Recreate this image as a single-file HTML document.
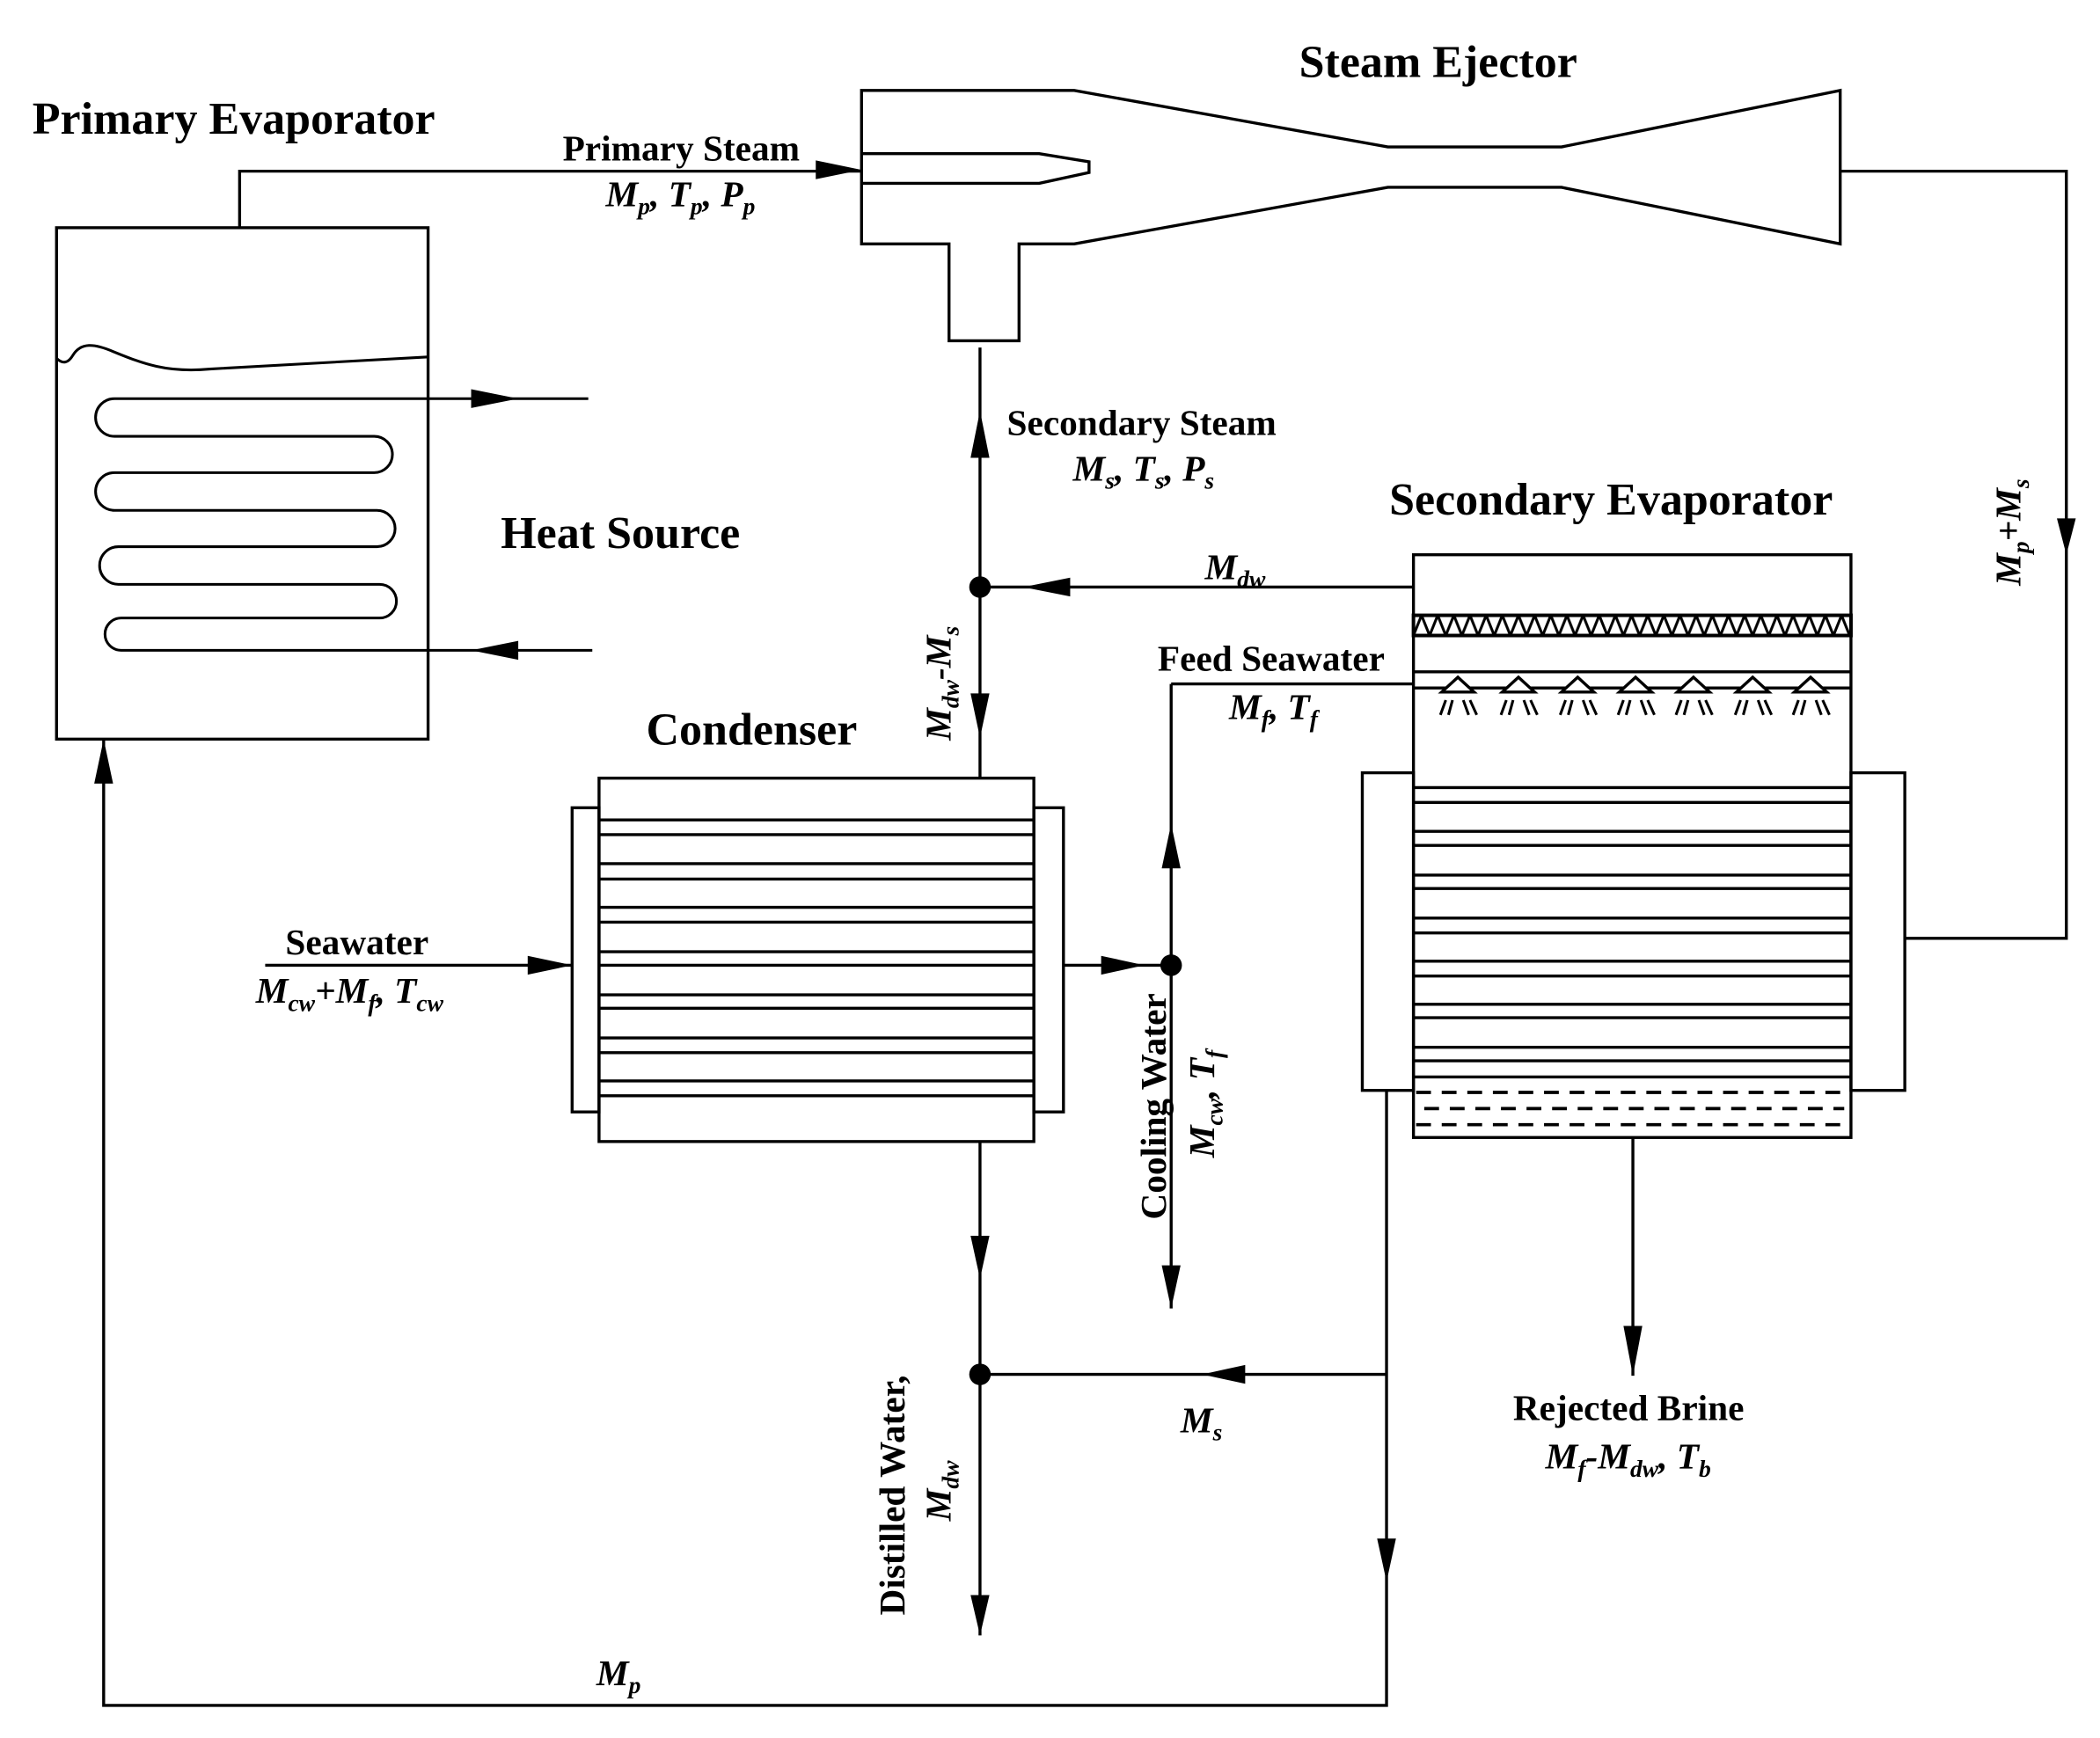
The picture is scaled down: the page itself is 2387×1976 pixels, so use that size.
<!DOCTYPE html>
<html><head><meta charset="utf-8"><style>
html,body{margin:0;padding:0;background:#fff;}
svg{display:block;}
text{font-family:"Liberation Serif",serif;font-weight:bold;fill:#000;}
.t{font-size:34px;}
.l{font-size:27px;}
.i{font-size:27px;font-style:italic;}
.s{font-size:18px;font-style:italic;}
</style></head><body>
<svg width="2387" height="1976" viewBox="0 0 1560 1291" xmlns="http://www.w3.org/2000/svg">
<defs>
<pattern id="zz" patternUnits="userSpaceOnUse" x="1050" y="457" width="12" height="15">
<path d="M0,15 L6,0 L12,15" fill="none" stroke="#000" stroke-width="2"/>
</pattern>
<g id="spr">
<polygon points="-12,11 0,0 12,11" fill="#fff" stroke="#000" stroke-width="2.2"/>
<path d="M-13,28 L-9,17 M-7,28 L-4,17 M4,17 L8,28 M9,17 L14,28" stroke="#000" stroke-width="2"/>
</g>
</defs>
<g fill="none" stroke="#000" stroke-width="2.2">
<rect x="42" y="169" width="276" height="380"/>
<path d="M178,169 V127 H640"/>
<path d="M42,266 c5,5 9,3 12,-2 c6,-10 16,-9 30,-3 c22,9 40,16 72,13 L318,265" stroke-width="2"/>
<path d="M437,296 H85 A14,14 0 0 0 85,324 H278 A13.5,13.5 0 0 1 278,351 H85 A14,14 0 0 0 85,379 H280 A13.5,13.5 0 0 1 280,406 H88 A14,14 0 0 0 88,434 H282 A12.5,12.5 0 0 1 282,459 H90 A12,12 0 0 0 90,483 H440" stroke-width="2"/>
<path d="M640,67 H798 L1031,109 H1160 L1367,67 V181 L1160,139 H1031 L798,181 H757 V253 H705 V181 H640 Z"/>
<path d="M640,114 H772 L809,120 V128 L772,136 H640"/>
<path d="M1367,127 H1535 V697 H1415"/>
<path d="M728,258 V578"/>
<path d="M728,436 H1050"/>
<rect x="445" y="578" width="323" height="270"/>
<rect x="425" y="600" width="20" height="226"/>
<rect x="768" y="600" width="22" height="226"/>
<path d="M445,609H768M445,620H768M445,641.5H768M445,653H768M445,674H768M445,685H768M445,707H768M445,717H768M445,739H768M445,749H768M445,771H768M445,782H768M445,803H768M445,814H768"/>
<path d="M197,717 H425"/>
<path d="M790,717 H870"/>
<path d="M870,508 V972"/>
<path d="M870,508 H1050"/>
<path d="M728,848 V1215"/>
<path d="M728,1021 H1030"/>
<rect x="1050" y="412" width="325" height="433"/>
<rect x="1012" y="574" width="38" height="236"/>
<rect x="1375" y="574" width="40" height="236"/>
<rect x="1050" y="457" width="325" height="15" fill="url(#zz)" stroke-width="2.6"/>
<path d="M1050,499H1375M1050,511H1375"/>
<path d="M1050,585H1375M1050,596H1375M1050,617.5H1375M1050,628H1375M1050,650H1375M1050,660H1375M1050,682H1375M1050,693H1375M1050,714H1375M1050,725H1375M1050,746H1375M1050,756H1375M1050,778H1375M1050,788H1375M1050,800H1375"/>
<path d="M1052,811.5H1375M1058,823.5H1370M1052,835.5H1375" stroke-dasharray="11,8" stroke-width="2.4"/>
<path d="M1030,810 V1267 H77 V549"/>
<path d="M1213,845 V1022"/>
</g>
<use href="#spr" x="1083" y="503"/><use href="#spr" x="1128" y="503"/><use href="#spr" x="1172" y="503"/><use href="#spr" x="1215" y="503"/><use href="#spr" x="1258" y="503"/><use href="#spr" x="1302" y="503"/><use href="#spr" x="1345" y="503"/>
<g fill="#000">
<polygon points="350,289 385,296 350,303"/>
<polygon points="350,483 385,476 385,490"/>
<polygon points="606,119 640,126 606,133"/>
<polygon points="1528,385 1535,412 1542,385"/>
<polygon points="721,340 728,305 735,340"/>
<polygon points="721,515 728,548 735,515"/>
<polygon points="760,436 795,429 795,443"/>
<polygon points="392,710 425,717 392,724"/>
<polygon points="818,710 850,717 818,724"/>
<polygon points="863,645 870,612 877,645"/>
<polygon points="863,940 870,972 877,940"/>
<polygon points="721,918 728,950 735,918"/>
<polygon points="721,1185 728,1215 735,1185"/>
<polygon points="893,1021 925,1014 925,1028"/>
<polygon points="1023,1143 1030,1175 1037,1143"/>
<polygon points="1206,985 1213,1022 1220,985"/>
<polygon points="70,582 77,549 84,582"/>
<circle cx="728" cy="436" r="8"/>
<circle cx="870" cy="717" r="8"/>
<circle cx="728" cy="1021" r="8"/>
</g>
<text class="t" x="24" y="99">Primary  Evaporator</text>
<text class="t" x="372" y="407">Heat Source</text>
<text class="t" x="965" y="57">Steam Ejector</text>
<text class="t" x="1032" y="382">Secondary Evaporator</text>
<text class="t" x="480" y="553">Condenser</text>
<text class="l" x="418" y="119">Primary Steam</text>
<text class="i" x="450" y="153">M<tspan class="s" dy="6">p</tspan><tspan dy="-6">, T</tspan><tspan class="s" dy="6">p</tspan><tspan dy="-6">, P</tspan><tspan class="s" dy="6">p</tspan></text>
<text class="l" x="748" y="323">Secondary Steam</text>
<text class="i" x="797" y="357">M<tspan class="s" dy="6">s</tspan><tspan dy="-6">, T</tspan><tspan class="s" dy="6">s</tspan><tspan dy="-6">, P</tspan><tspan class="s" dy="6">s</tspan></text>
<text class="i" x="895" y="430">M<tspan class="s" dy="6">dw</tspan></text>
<text class="l" x="860" y="498">Feed Seawater</text>
<text class="i" x="913" y="534">M<tspan class="s" dy="6">f</tspan><tspan dy="-6">, T</tspan><tspan class="s" dy="6">f</tspan></text>
<text class="l" x="212" y="709">Seawater</text>
<text class="i" x="190" y="745">M<tspan class="s" dy="6">cw</tspan><tspan dy="-6">+M</tspan><tspan class="s" dy="6">f</tspan><tspan dy="-6">, T</tspan><tspan class="s" dy="6">cw</tspan></text>
<text class="i" x="877" y="1064">M<tspan class="s" dy="6">s</tspan></text>
<text class="i" x="443" y="1252">M<tspan class="s" dy="6">p</tspan></text>
<text class="l" x="1124" y="1055">Rejected Brine</text>
<text class="i" x="1148" y="1091">M<tspan class="s" dy="6">f</tspan><tspan dy="-6">-M</tspan><tspan class="s" dy="6">dw</tspan><tspan dy="-6">, T</tspan><tspan class="s" dy="6">b</tspan></text>
<text class="i" transform="translate(1501,435) rotate(-90)">M<tspan class="s" dy="6">p</tspan><tspan dy="-6">+M</tspan><tspan class="s" dy="6">s</tspan></text>
<text class="i" transform="translate(706,550) rotate(-90)">M<tspan class="s" dy="6">dw</tspan><tspan dy="-6">-M</tspan><tspan class="s" dy="6">s</tspan></text>
<text class="l" transform="translate(866,906) rotate(-90)">Cooling Water</text>
<text class="i" transform="translate(902,860) rotate(-90)">M<tspan class="s" dy="6">cw</tspan><tspan dy="-6">, T</tspan><tspan class="s" dy="6">f</tspan></text>
<text class="l" transform="translate(672,1200) rotate(-90)">Distilled Water,</text>
<text class="i" transform="translate(706,1130) rotate(-90)">M<tspan class="s" dy="6">dw</tspan></text>
</svg>
</body></html>
